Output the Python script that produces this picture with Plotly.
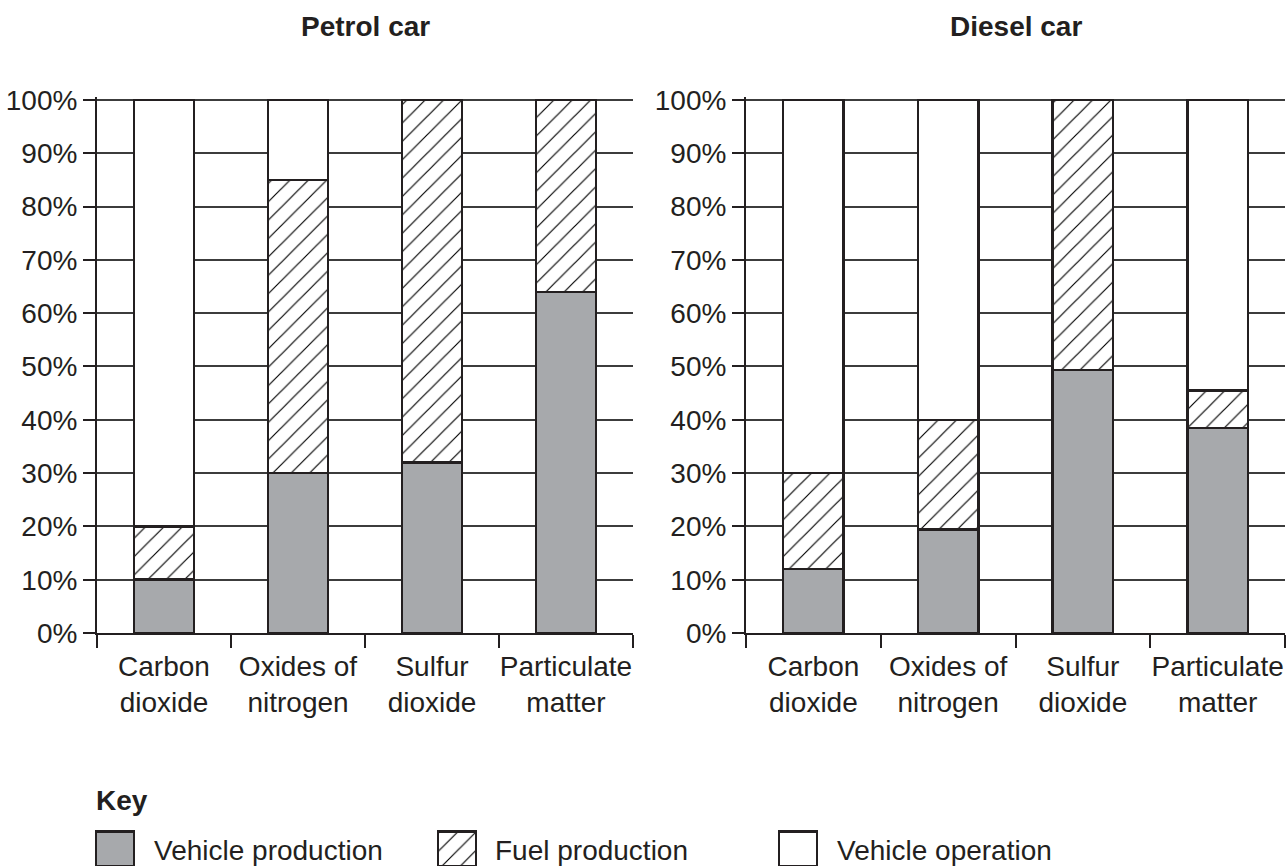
import plotly.graph_objects as go

# ---------------- data ----------------
CATEGORIES = ["Carbon dioxide", "Oxides of nitrogen", "Sulfur dioxide", "Particulate matter"]
CATEGORY_LABELS = ["Carbon<br>dioxide", "Oxides of<br>nitrogen", "Sulfur<br>dioxide", "Particulate<br>matter"]

PETROL_VEHICLE_PRODUCTION = [10, 30, 32, 64]
PETROL_FUEL_PRODUCTION = [10, 55, 68, 36]
PETROL_VEHICLE_OPERATION = [80, 15, 0, 0]

DIESEL_VEHICLE_PRODUCTION = [12, 19.4, 49.3, 38.5]
DIESEL_FUEL_PRODUCTION = [18, 20.6, 50.7, 7]
DIESEL_VEHICLE_OPERATION = [70, 60, 0, 54.5]

Y_TICKS = [0, 10, 20, 30, 40, 50, 60, 70, 80, 90, 100]
Y_TICK_LABELS = [f"{v}%" for v in Y_TICKS]
SERIES_NAMES = ["Vehicle production", "Fuel production", "Vehicle operation"]
PANEL_TITLES = ["Petrol car", "Diesel car"]

# ---------------- layout constants ----------------
W, H = 1288, 866
FONT = "Liberation Sans, Arial, Helvetica, sans-serif"
INK = "#231f20"
GREY = "#a7a9ac"


def fx(p):
    return p / W


def fy(p):
    return 1 - p / H


styles = [
    dict(color=GREY, line=dict(color=INK, width=2.5)),
    dict(color="white", line=dict(color=INK, width=2.5),
         pattern=dict(shape="/", fgcolor="#000000", bgcolor="white", size=13, solidity=0.09)),
    dict(color="white", line=dict(color=INK, width=2.5)),
]

positions = list(range(len(CATEGORIES)))
boundaries = [p - 0.5 for p in positions] + [positions[-1] + 0.5]

fig = go.Figure()

panels = [
    ("x", "y", [PETROL_VEHICLE_PRODUCTION, PETROL_FUEL_PRODUCTION, PETROL_VEHICLE_OPERATION]),
    ("x2", "y2", [DIESEL_VEHICLE_PRODUCTION, DIESEL_FUEL_PRODUCTION, DIESEL_VEHICLE_OPERATION]),
]
for xa, ya, series in panels:
    for name, vals, st in zip(SERIES_NAMES, series, styles):
        fig.add_trace(go.Bar(x=positions, y=vals, name=name, marker=st,
                             customdata=CATEGORIES,
                             hovertemplate="%{customdata}<br>" + name + ": %{y}%<extra></extra>",
                             xaxis=xa, yaxis=ya, showlegend=False))

# key swatches (drawn as bars in a hidden helper axis)
KEY_SWATCH_CENTERS = [115, 457, 798]
for name, cx, st in zip(SERIES_NAMES, KEY_SWATCH_CENTERS, styles):
    fig.add_trace(go.Bar(x=[cx], y=[1], width=[38], marker=st, xaxis="x3", yaxis="y3",
                         showlegend=False, hoverinfo="skip"))

axis_common_x = dict(
    type="linear", range=[-0.5, 3.5], tickmode="array", tickvals=positions, ticktext=CATEGORY_LABELS,
    ticks="", tickangle=0, automargin=False, ticklabelstandoff=7,
    minor=dict(tickmode="array", tickvals=boundaries, ticks="outside", ticklen=13, tickwidth=2,
               tickcolor=INK, showgrid=False),
    showline=True, linewidth=2, linecolor=INK, showgrid=False, zeroline=False,
    tickfont=dict(family=FONT, size=28, color=INK), fixedrange=True,
)
axis_common_y = dict(
    range=[0, 100.5], tickmode="array", tickvals=Y_TICKS, ticktext=Y_TICK_LABELS,
    ticks="outside", ticklen=12, tickwidth=2, tickcolor=INK, automargin=False,
    showline=True, linewidth=2, linecolor=INK,
    showgrid=True, gridcolor="#3c3c3c", gridwidth=1.5, zeroline=False,
    tickfont=dict(family=FONT, size=28, color=INK), fixedrange=True,
)

y_dom = [fy(633), fy(97.3)]

fig.update_layout(
    template="none",
    width=W, height=H,
    margin=dict(l=0, r=0, t=0, b=0, autoexpand=False),
    paper_bgcolor="white", plot_bgcolor="white",
    barmode="stack", bargap=0.55,
    font=dict(family=FONT, color=INK),
    xaxis=dict(domain=[fx(97), fx(633)], anchor="y", **axis_common_x),
    yaxis=dict(domain=y_dom, anchor="x", **axis_common_y),
    xaxis2=dict(domain=[fx(746), fx(1285)], anchor="y2", **axis_common_x),
    yaxis2=dict(domain=y_dom, anchor="x2", **axis_common_y),
    xaxis3=dict(domain=[0, 1], range=[0, W], anchor="y3", visible=False, fixedrange=True, automargin=False),
    yaxis3=dict(domain=[0, fy(830)], range=[0, 1.04], anchor="x3", visible=False, fixedrange=True,
                automargin=False),
    showlegend=False,
)

# panel titles
for title, (a, b) in zip(PANEL_TITLES, [(97, 633), (746, 1285)]):
    fig.add_annotation(text=f"<b>{title}</b>", x=fx((a + b) / 2), y=fy(26), xref="paper", yref="paper",
                       xanchor="center", yanchor="middle", showarrow=False,
                       font=dict(family=FONT, size=28, color=INK))

# key
fig.add_annotation(text="<b>Key</b>", x=fx(94), y=fy(800), xref="paper", yref="paper",
                   xanchor="left", yanchor="middle", showarrow=False,
                   font=dict(family=FONT, size=28, color=INK))
KEY_TEXT_X = [152, 493, 835]
for name, tx in zip(SERIES_NAMES, KEY_TEXT_X):
    fig.add_annotation(text=name, x=fx(tx), y=fy(850), xref="paper", yref="paper",
                       xanchor="left", yanchor="middle", showarrow=False,
                       font=dict(family=FONT, size=28, color=INK))

fig.write_html("out.html", config={"displayModeBar": False},
               post_script="document.body.style.margin='0px';")
